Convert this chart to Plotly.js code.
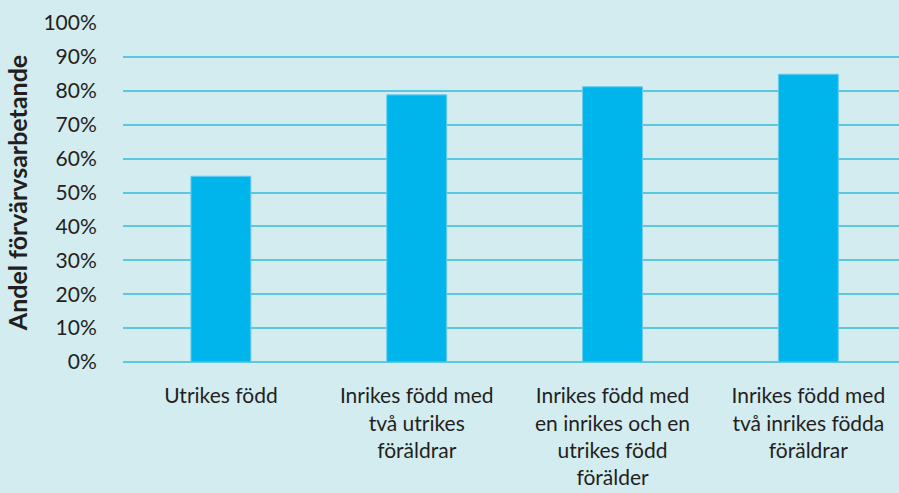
<!DOCTYPE html>
<html>
<head>
<meta charset="utf-8">
<script src="https://cdn.plot.ly/plotly-3.0.1.min.js"></script>
<style>html,body{margin:0;padding:0;background:#D3ECF0;}#chart{width:899px;height:493px;}</style>
</head>
<body>
<div id="chart"></div>
<script>
const categories = [
  "Utrikes född",
  "Inrikes född med<br>två utrikes<br>föräldrar",
  "Inrikes född med<br>en inrikes och en<br>utrikes född<br>förälder",
  "Inrikes född med<br>två inrikes födda<br>föräldrar"
];
const shareEmployed = [0.548, 0.788, 0.812, 0.849];
const yTickValues = [0, 0.1, 0.2, 0.3, 0.4, 0.5, 0.6, 0.7, 0.8, 0.9, 1.0];
const yTickLabels = ["0%", "10%", "20%", "30%", "40%", "50%", "60%", "70%", "80%", "90%", "100%"];
const yTitle = "Andel förvärvsarbetande";

const textColor = "#231F20";
const font = "Lato, 'Open Sans', sans-serif";

Plotly.newPlot("chart", [{
  type: "bar",
  x: [0, 1, 2, 3],
  y: shareEmployed,
  width: 0.306,
  marker: {color: "#00B5EC", line: {color: "#6CCBEA", width: 1}},
  hoverinfo: "skip"
}], {
  width: 899, height: 493,
  margin: {l: 123, r: 0, t: 23, b: 131, pad: 0},
  paper_bgcolor: "#D3ECF0",
  plot_bgcolor: "#D3ECF0",
  showlegend: false,
  font: {family: font, color: textColor, size: 21},
  xaxis: {
    range: [-0.5, 3.463],
    tickmode: "array",
    tickvals: [0, 1, 2, 3],
    ticktext: categories,
    ticks: "outside", ticklen: 15, tickcolor: "rgba(0,0,0,0)",
    showgrid: false, zeroline: false, showline: false,
    tickfont: {family: font, size: 21, color: textColor},
    fixedrange: true
  },
  yaxis: {
    range: [0, 1.0],
    tickmode: "array",
    tickvals: yTickValues,
    ticktext: yTickLabels,
    ticks: "outside", ticklen: 21, tickcolor: "rgba(0,0,0,0)",
    showgrid: true, gridcolor: "#5CC7E0", gridwidth: 2,
    zeroline: true, zerolinecolor: "#5CC7E0", zerolinewidth: 2,
    showline: false,
    tickfont: {family: font, size: 21, color: textColor},
    title: {text: "<b>" + yTitle + "</b>", font: {family: font, size: 25, color: textColor}, standoff: 8},
    fixedrange: true
  }
}, {displayModeBar: false, staticPlot: true});
</script>
</body>
</html>
